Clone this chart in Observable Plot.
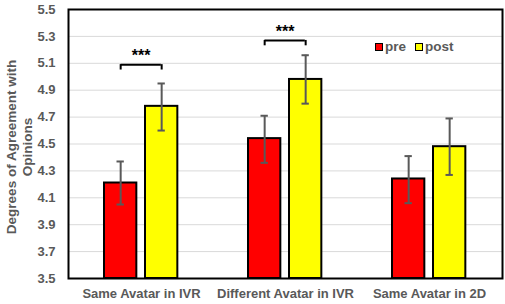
<!DOCTYPE html>
<html>
<head>
<meta charset="utf-8">
<script src="https://cdn.jsdelivr.net/npm/d3@7"></script>
<script src="https://cdn.jsdelivr.net/npm/@observablehq/plot@0.6"></script>
<style>
  html, body { margin: 0; padding: 0; background: #fff; }
  #wrap { position: relative; width: 505px; height: 304px; font-family: "Liberation Sans", Arial, sans-serif; }
  #legend { position: absolute; left: 375px; top: 39px; font-size: 13.5px; font-weight: bold; color: #595959; display: flex; align-items: center; }
  #legend .item { display: flex; align-items: center; margin-right: 9px; }
  #legend .sw { width: 6px; height: 6px; border: 1.5px solid #000; margin-right: 2px; }
</style>
</head>
<body>
<div id="wrap"><div id="legend"></div></div>
<script>
const categories = ["Same Avatar in IVR", "Different Avatar in IVR", "Same Avatar in 2D"];
const series = ["pre", "post"];
const seriesColors = ["#ff0000", "#ffff00"];
const preMeans = [4.21, 4.54, 4.24];
const postMeans = [4.78, 4.98, 4.48];
const preLow = [4.05, 4.36, 4.06];
const preHigh = [4.37, 4.71, 4.41];
const postLow = [4.60, 4.80, 4.27];
const postHigh = [4.95, 5.16, 4.69];
const yTicks = [3.5, 3.7, 3.9, 4.1, 4.3, 4.5, 4.7, 4.9, 5.1, 5.3, 5.5];
const sigCategories = ["Same Avatar in IVR", "Different Avatar in IVR"];
const sigLevels = [5.09, 5.27];
const sigLabels = ["***", "***"];
const yTitleLines = ["Degrees of Agreement with", "Opinions"];

const W = 505, H = 304;
const mL = 68, mR = 3, mT = 9, mB = 26;
const bw = (W - mL - mR) / categories.length;
const barW = 33, outerPad = 35, gap = 8;
const leftInsets = [outerPad, outerPad + barW + gap];
const centers = leftInsets.map(l => l + barW / 2);
const capHalf = 4;

const rows = [];
categories.forEach((c, i) => {
  rows.push({cat: c, s: 0, v: preMeans[i], lo: preLow[i], hi: preHigh[i]});
  rows.push({cat: c, s: 1, v: postMeans[i], lo: postLow[i], hi: postHigh[i]});
});
const sig = sigCategories.map((c, i) => ({cat: c, y: sigLevels[i], label: sigLabels[i]}));

const marks = [
  Plot.ruleY(yTicks.slice(1, -1), {stroke: "#d9d9d9", strokeWidth: 1})
];
series.forEach((s, k) => {
  const d = rows.filter(r => r.s === k);
  marks.push(Plot.barY(d, {x: "cat", y1: yTicks[0], y2: "v", fill: seriesColors[k], stroke: "#000", strokeWidth: 2,
    insetLeft: leftInsets[k], insetRight: bw - leftInsets[k] - barW}));
  marks.push(Plot.ruleX(d, {x: "cat", y1: "lo", y2: "hi", dx: centers[k] - bw / 2, stroke: "#595959", strokeWidth: 2}));
  marks.push(Plot.tickY(d, {x: "cat", y: "hi", insetLeft: centers[k] - capHalf, insetRight: bw - centers[k] - capHalf, stroke: "#595959", strokeWidth: 2}));
  marks.push(Plot.tickY(d, {x: "cat", y: "lo", insetLeft: centers[k] - capHalf, insetRight: bw - centers[k] - capHalf, stroke: "#595959", strokeWidth: 2}));
});
// significance brackets
marks.push(Plot.tickY(sig, {x: "cat", y: "y", insetLeft: centers[0], insetRight: bw - centers[1], stroke: "#000", strokeWidth: 2}));
centers.forEach(c => {
  marks.push(Plot.ruleX(sig, {x: "cat", y1: "y", y2: d => d.y - 0.04, dx: c - bw / 2, stroke: "#000", strokeWidth: 2}));
});
marks.push(Plot.text(sig, {x: "cat", y: "y", text: "label", dx: (centers[0] + centers[1]) / 2 - bw / 2, dy: -9, fontSize: 16, fontWeight: "bold", fill: "#000", lineAnchor: "middle"}));
marks.push(Plot.frame({stroke: "#000", strokeWidth: 2}));
marks.push(Plot.text([yTitleLines.join("\n")], {text: d => d, frameAnchor: "left", textAnchor: "middle", lineAnchor: "middle", rotate: -90, dx: -50, dy: 3, fontSize: 13.5, fontWeight: "bold", fill: "#595959", lineHeight: 1.2}));

const chart = Plot.plot({
  width: W, height: H,
  marginLeft: mL, marginRight: mR, marginTop: mT, marginBottom: mB,
  style: {fontFamily: "'Liberation Sans', Arial, sans-serif", fontSize: "13px", fontWeight: "bold", color: "#595959", background: "#fff"},
  x: {domain: categories, padding: 0, tickSize: 0, tickPadding: 10, label: null},
  y: {domain: [yTicks[0], yTicks[yTicks.length - 1]], ticks: yTicks, tickFormat: d3.format(".1f"), tickSize: 0, tickPadding: 13, label: null},
  marks
});
document.getElementById("wrap").prepend(chart);

const legend = document.getElementById("legend");
series.forEach((s, k) => {
  const it = document.createElement("div");
  it.className = "item";
  const sw = document.createElement("div");
  sw.className = "sw";
  sw.style.background = seriesColors[k];
  const t = document.createElement("span");
  t.textContent = s;
  it.append(sw, t);
  legend.append(it);
});
</script>
</body>
</html>
